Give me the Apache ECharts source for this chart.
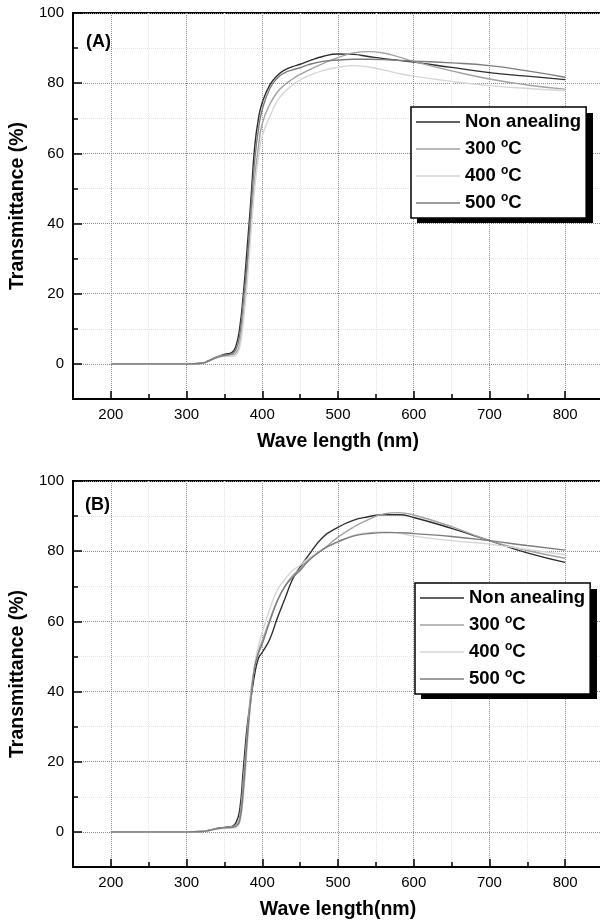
<!DOCTYPE html>
<html>
<head>
<meta charset="utf-8">
<script src="https://cdn.jsdelivr.net/npm/echarts@6/dist/echarts.min.js"></script>
<style>
html, body { margin: 0; padding: 0; background: #fff; }
#chart { width: 600px; height: 924px; }
</style>
</head>
<body>
<div id="chart"></div>
<script>
// wavelength samples (nm), shared by every curve
const wavelengths = [200, 300, 320, 330, 340, 350, 360, 365, 370, 375, 380, 385, 390, 395, 400, 410,
  420, 430, 440, 450, 460, 480, 500, 520, 540, 560, 580, 600, 650, 700, 750, 800];

// panel (A) transmittance (%)
const nonA  = [0, 0, 0.2, 1, 2, 2.7, 3.3, 5, 10, 20, 33, 47, 62, 70, 74.5, 79.5,
  82.2, 83.8, 84.7, 85.4, 86.2, 87.6, 88.3, 88.2, 87.6, 87, 86.5, 86, 84.5, 83, 82, 81];
const t300A = [0, 0, 0.2, 0.9, 2, 2.5, 2.6, 3, 5.5, 14, 26, 40, 53, 62, 68.5, 74,
  77.5, 79.6, 81.2, 82.5, 83.6, 85.6, 87.3, 88.6, 89, 88.6, 87.5, 86.2, 83.5, 81.2, 79.5, 78.3];
const t400A = [0, 0, 0.1, 0.8, 1.8, 2.2, 2.2, 2.5, 4.5, 12, 23, 37, 50, 59, 65, 70.5,
  75, 77.6, 79.5, 80.9, 82, 83.6, 84.5, 85, 84.6, 83.8, 82.8, 82, 80.5, 79.3, 78.5, 77.9];
const t500A = [0, 0, 0.2, 0.9, 1.8, 2.4, 2.9, 4, 8, 18, 29, 44, 58, 67, 72.5, 78.5,
  81.5, 83, 83.8, 84.4, 85.2, 86.2, 86.6, 86.8, 86.8, 86.7, 86.5, 86.3, 85.8, 85, 83.5, 81.7];

// panel (B) transmittance (%)
const nonB  = [0, 0, 0.1, 0.5, 1, 1.3, 1.6, 2.5, 6, 18, 30, 38, 45, 49.5, 51.2, 55,
  61, 66.5, 72, 75.5, 78.5, 84, 86.8, 88.8, 89.8, 90.4, 90.4, 89.6, 86.5, 83, 79.5, 76.8];
const t300B = [0, 0, 0.1, 0.5, 1, 1.3, 1.5, 2, 4, 15, 28, 40, 47, 51.5, 54.5, 60.5,
  66, 70, 73, 75, 77.5, 80.5, 84, 86.8, 89, 90.6, 91, 90.3, 87, 83, 80.2, 78];
const t400B = [0, 0, 0.1, 0.4, 0.8, 1, 1.1, 1.3, 2.5, 10, 24, 38, 48, 53, 57, 63.5,
  69, 72, 74.5, 76, 77.8, 80.5, 82.5, 84.5, 85.3, 85.5, 85.2, 84.3, 83, 82, 80.5, 79];
const t500B = [0, 0, 0.1, 0.4, 0.9, 1.2, 1.3, 1.6, 3, 12, 26, 38, 47, 51, 53.6, 60,
  65.9, 70, 72.5, 74.5, 77, 80.5, 82.7, 84.3, 85, 85.3, 85.3, 85, 84.2, 83, 81.6, 80.3];

const seriesNames = ['Non anealing', '300 °C', '400 °C', '500 °C'];
const xMajorTicks = [200, 300, 400, 500, 600, 700, 800];
const yMajorTicks = [0, 20, 40, 60, 80, 100];

const FONT = 'Liberation Sans, Arial, Helvetica, sans-serif';
const lineColors = ['#2e2e2e', '#a2a2a2', '#d6d6d6', '#7c7c7c'];

function pairs(values) {
  return wavelengths.map((w, i) => [w, values[i]]);
}

function xAxesFor(grid, title) {
  return [{
    gridIndex: grid, type: 'value', position: 'bottom',
    min: 150, max: 850, interval: 50,
    name: title, nameLocation: 'middle', nameGap: 33,
    nameTextStyle: { fontFamily: FONT, fontSize: 19.5, fontWeight: 'bold', color: '#000' },
    axisLine: { onZero: false, lineStyle: { color: '#000', width: 2 } },
    axisTick: { inside: true, length: 5, lineStyle: { color: '#000', width: 1.5 } },
    axisLabel: {
      margin: 8, fontFamily: FONT, fontSize: 15, color: '#000',
      formatter: v => xMajorTicks.indexOf(v) >= 0 ? String(v) : ''
    },
    splitLine: { show: true, lineStyle: { type: 'dotted', width: 1, color: ['#e4e4e4', '#8c8c8c'] } }
  }, {
    gridIndex: grid, type: 'value', position: 'bottom',
    min: 150, max: 850, interval: 50,
    axisLine: { show: false, onZero: false },
    axisTick: { inside: true, length: 8, customValues: xMajorTicks, lineStyle: { color: '#000', width: 1.5 } },
    axisLabel: { show: false },
    splitLine: { show: false }
  }];
}

function yAxesFor(grid) {
  return [{
    gridIndex: grid, type: 'value', position: 'left',
    min: -10, max: 100, interval: 10,
    name: 'Transmittance (%)', nameLocation: 'middle', nameGap: 44,
    nameTextStyle: { fontFamily: FONT, fontSize: 19.5, fontWeight: 'bold', color: '#000' },
    axisLine: { onZero: false, lineStyle: { color: '#000', width: 2 } },
    axisTick: { inside: true, length: 5, lineStyle: { color: '#000', width: 1.5 } },
    axisLabel: {
      margin: 9, fontFamily: FONT, fontSize: 15, color: '#000',
      formatter: v => yMajorTicks.indexOf(v) >= 0 ? String(v) : ''
    },
    splitLine: { show: true, lineStyle: { type: 'dotted', width: 1, color: ['#e4e4e4', '#8c8c8c'] } }
  }, {
    gridIndex: grid, type: 'value', position: 'left',
    min: -10, max: 100, interval: 10,
    axisLine: { show: false, onZero: false },
    axisTick: { inside: true, length: 9, customValues: yMajorTicks, lineStyle: { color: '#000', width: 1.5 } },
    axisLabel: { show: false },
    splitLine: { show: false }
  }];
}

function legendAt(left, top) {
  return {
    left: left, top: top, orient: 'vertical',
    data: seriesNames,
    selectedMode: false,
    icon: 'rect',
    z: 10,
    padding: [4, 5, 4, 5],
    itemGap: 5, itemWidth: 44, itemHeight: 1.6,
    backgroundColor: '#fff', borderColor: '#000', borderWidth: 1.5, borderRadius: 0,
    formatter: name => name.replace(' °C', ' {s|o}C'),
    textStyle: {
      fontFamily: FONT, fontSize: 18.5, fontWeight: 'bold', color: '#000', lineHeight: 22,
      rich: {
        s: { fontFamily: FONT, fontSize: 12, fontWeight: 'bold', color: '#000', lineHeight: 8, verticalAlign: 'top' }
      }
    }
  };
}

// solid black drop shadow behind a legend box
function legendShadow(left, top) {
  return {
    type: 'rect', left: left + 6, top: top + 6, z: 5,
    shape: { width: 176, height: 110 },
    style: { fill: '#000' }
  };
}

function curves(values, xi) {
  return values.map((vals, k) => ({
    name: seriesNames[k], type: 'line',
    xAxisIndex: xi, yAxisIndex: xi,
    data: pairs(vals),
    showSymbol: false, symbol: 'none',
    smooth: 0.5,
    color: lineColors[k],
    lineStyle: { color: lineColors[k], width: 1.4 }
  }));
}

const chart = echarts.init(document.getElementById('chart'), null, { renderer: 'canvas' });
chart.setOption({
  animation: false,
  backgroundColor: '#fff',
  title: [
    { text: '(A)', left: 86, top: 33, padding: 0,
      textStyle: { fontFamily: FONT, fontSize: 18, fontWeight: 'bold', color: '#000' } },
    { text: '(B)', left: 85, top: 496, padding: 0,
      textStyle: { fontFamily: FONT, fontSize: 18, fontWeight: 'bold', color: '#000' } }
  ],
  legend: [legendAt(411, 107), legendAt(415, 583)],
  graphic: [legendShadow(411, 107), legendShadow(415, 583)],
  grid: [
    { left: 73, top: 13, width: 530, height: 386, show: true, borderColor: '#000', borderWidth: 2,
      outerBoundsMode: 'none', containLabel: false },
    { left: 73, top: 481, width: 530, height: 386, show: true, borderColor: '#000', borderWidth: 2,
      outerBoundsMode: 'none', containLabel: false }
  ],
  xAxis: xAxesFor(0, 'Wave length (nm)').concat(xAxesFor(1, 'Wave length(nm)')),
  yAxis: yAxesFor(0).concat(yAxesFor(1)),
  series: curves([nonA, t300A, t400A, t500A], 0).concat(curves([nonB, t300B, t400B, t500B], 2))
});
</script>
</body>
</html>
